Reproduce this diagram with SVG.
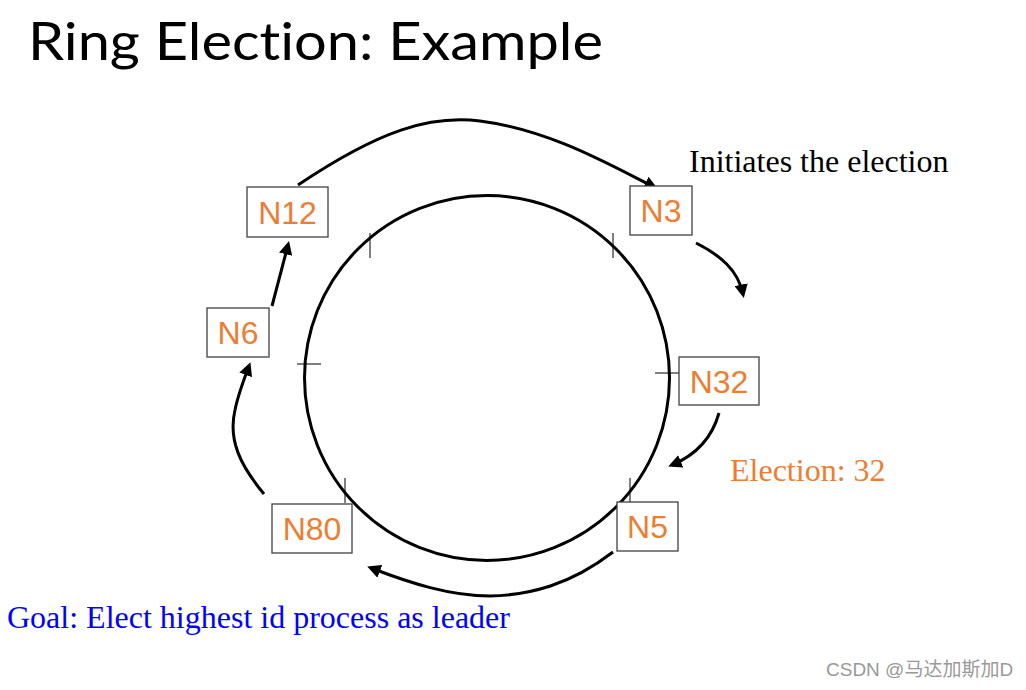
<svg xmlns="http://www.w3.org/2000/svg" width="1026" height="690" viewBox="0 0 1026 690">
<defs>
<style>
.box{fill:#fff;stroke:#404040;stroke-width:1.3}
.lbl{font-family:"Liberation Sans",Arial,sans-serif;font-size:32px;fill:#ED7D31;text-anchor:middle}
.ser{font-family:"Liberation Serif","Times New Roman",serif;font-size:32px}
.arr{fill:none;stroke:#000;stroke-width:3;marker-end:url(#ah)}
.tick{stroke:#000;stroke-width:1}
</style>
<marker id="ah" viewBox="0 0 10 10" refX="7" refY="5" markerWidth="4.5" markerHeight="4.5" orient="auto" markerUnits="strokeWidth">
<path d="M0,0 L10,5 L0,10 z" fill="#000"/>
</marker>
</defs>
<rect width="1026" height="690" fill="#fff"/>
<text x="28" y="60" font-family="Lato,'Open Sans',sans-serif" font-size="53" textLength="575" lengthAdjust="spacingAndGlyphs" fill="#000" style="font-variant-ligatures:none">Ring Election: Example</text>
<g id="ring">
<circle cx="487" cy="378" r="182.5" fill="none" stroke="#000" stroke-width="3"/>
<line class="tick" x1="370" y1="233" x2="370" y2="258"/>
<line class="tick" x1="613" y1="233" x2="613" y2="258"/>
<line class="tick" x1="297" y1="364" x2="321" y2="364"/>
<line class="tick" x1="655" y1="373" x2="680" y2="373"/>
<line class="tick" x1="345" y1="478" x2="345" y2="503"/>
<line class="tick" x1="630" y1="478" x2="630" y2="503"/>
</g>
<g id="connectors">
<path class="arr" d="M298,185 C380,130 430,115 480,121 C550,130 610,165 654,187"/>
<path class="arr" d="M696,243 C720,255 738,270 743,294"/>
<path class="arr" d="M719,413 C712,438 696,455 672,465"/>
<path class="arr" d="M613,552 C570,585 530,595 490,596 C450,596 410,583 371,568"/>
<path class="arr" d="M264,494 C240,465 228,440 235,410 C238,395 243,382 249,366"/>
<path class="arr" d="M272,306 L288,245"/>
</g>
<g id="n12"><rect class="box" x="247" y="187" width="81" height="50"/><text class="lbl" x="287.5" y="223.5">N12</text></g>
<g id="n3"><rect class="box" x="630" y="186" width="62" height="49"/><text class="lbl" x="661" y="222">N3</text></g>
<g id="n32"><rect class="box" x="679" y="357" width="80" height="48"/><text class="lbl" x="719" y="392.5">N32</text></g>
<g id="n6"><rect class="box" x="207" y="308" width="62" height="49"/><text class="lbl" x="238" y="344">N6</text></g>
<g id="n80"><rect class="box" x="272" y="504" width="80" height="49"/><text class="lbl" x="312" y="540">N80</text></g>
<g id="n5"><rect class="box" x="617" y="502" width="61" height="49" stroke="#707070"/><text class="lbl" x="647.5" y="538">N5</text></g>
<text class="ser" x="689" y="172" fill="#000">Initiates the election</text>
<text class="ser" x="730" y="481" fill="#ED7D31">Election: 32</text>
<text class="ser" x="7" y="628" fill="#0000FF">Goal: Elect highest id process as leader</text>
<text x="826" y="676" font-family="'Liberation Sans','Noto Sans CJK SC',sans-serif" font-size="19" fill="#999">CSDN @马达加斯加D</text>
</svg>
